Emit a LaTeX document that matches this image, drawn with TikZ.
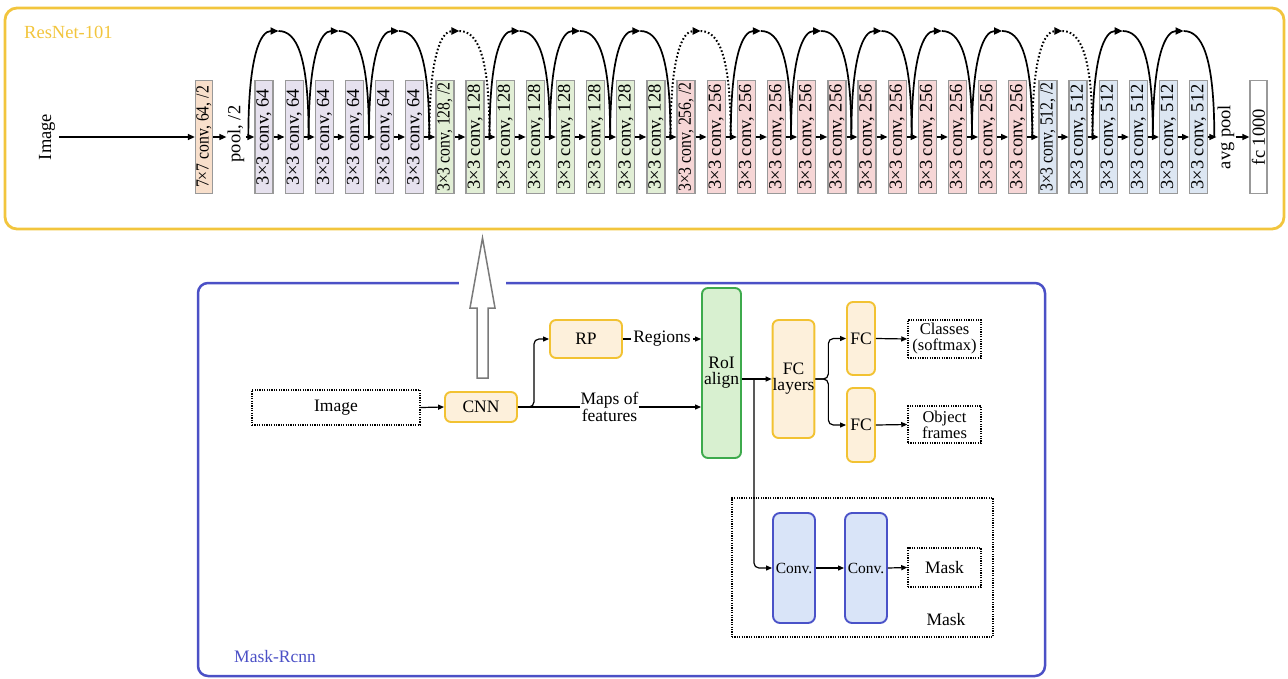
\documentclass[tikz,border=0pt]{standalone}
\usepackage{fontspec}
\setmainfont{Liberation Serif}
\usetikzlibrary{arrows.meta,calc}
\definecolor{yframe}{HTML}{F2C53D}
\definecolor{bframe}{HTML}{4B50C6}
\definecolor{c77}{HTML}{F8DFCB}
\definecolor{c64}{HTML}{E6E1EE}
\definecolor{c128}{HTML}{E1EED5}
\definecolor{c256}{HTML}{F6D6D6}
\definecolor{c512}{HTML}{DCE6F2}
\definecolor{bgray}{HTML}{999999}
\definecolor{yfill}{HTML}{FDF0DB}
\definecolor{yborder}{HTML}{F2C232}
\definecolor{gfill}{HTML}{D8F0D0}
\definecolor{gborder}{HTML}{3DAA4C}
\definecolor{cfill}{HTML}{D9E4F8}
\definecolor{cborder}{HTML}{4A52C8}
\definecolor{hollow}{HTML}{7A7A7A}
\newcommand{\topfont}{\fontsize{18.5}{20}\selectfont}
\newcommand{\botfont}{\fontsize{17.5}{16}\selectfont}
\newcommand{\smfont}{\fontsize{16.5}{16}\selectfont}
\newcommand{\sqz}[1]{\scalebox{0.85}[1]{#1}}
\begin{document}
\begin{tikzpicture}[x=1pt,y=-1pt,
  layer/.style={draw=bgray, line width=1.3pt, minimum width=18pt, minimum height=113pt, inner sep=0pt, font=\topfont},
  rtext/.style={font=\topfont, inner sep=1pt},
  tarr/.style={-{Triangle[length=7pt,width=6pt]}, line width=1.4pt},
  skipline/.style={line width=1.7pt},
  skipdot/.style={line width=2pt, dash pattern=on 1.6pt off 2.2pt},
  barr/.style={-{Triangle[length=6pt,width=5pt]}, line width=1.2pt},
  ybox/.style={draw=yborder, fill=yfill, line width=1.9pt, rounded corners=6pt, inner sep=0pt, font=\botfont, align=center},
  gbox/.style={draw=gborder, fill=gfill, line width=1.9pt, rounded corners=6pt, inner sep=0pt, font=\botfont, align=center},
  cbox/.style={draw=cborder, fill=cfill, line width=1.9pt, rounded corners=7pt, inner sep=0pt, font=\fontsize{15.5}{16}\selectfont, align=center},
  dbox/.style={draw, line width=1.5pt, dash pattern=on 1.2pt off 1.2pt, inner sep=0pt, font=\botfont, align=center}
]
\useasboundingbox (0,0) rectangle (1288,678);

% ---------- ResNet-101 ----------
\draw[draw=yframe, line width=2.8pt, rounded corners=12pt] (5,8) rectangle (1284,229);
\node[text=yframe, font=\topfont, anchor=west, inner sep=0pt] (resnet) at (24,32) {ResNet-101};

\node[rtext, inner sep=4pt] (timg) at (47,137) {\rotatebox{90}{Image}};
\node[layer, fill=c77, minimum width=17pt] (c7) at (204,137) {\rotatebox{90}{\sqz{7×7 conv, 64, /2}}};
\node[rtext] (pool) at (236,134) {\rotatebox{90}{pool, /2}};
\draw[tarr] (timg.east) -- (c7.west);
\draw[tarr] (c7.east) -- (pool.west |- c7.east);

\foreach \stg/\cnt/\stt/\cl in {64/6/0/c64,128/8/6/c128,256/12/14/c256,512/6/26/c512}{
  \foreach \k in {1,...,\cnt}{
    \pgfmathtruncatemacro\idx{\stt+\k-1}
    \pgfmathsetmacro\xc{264+30.15*\idx}
    \ifnum\k=1\relax
      \ifnum\stg>64\relax\def\lab{\sqz{3×3 conv, \stg, /2}}\else\def\lab{3×3 conv, \stg}\fi
    \else\def\lab{3×3 conv, \stg}\fi
    \node[layer, fill=\cl] (b\idx) at (\xc,137) {\rotatebox{90}{\lab}};
  }
}
\draw[tarr] (pool.east |- b0.west) -- (b0.west);
\foreach \i in {0,...,30}{
  \pgfmathtruncatemacro\nx{\i+1}
  \draw[tarr] (b\i.east) -- (b\nx.west);
}
\node[rtext] (avg) at (1226,137) {\rotatebox{90}{avg pool}};
\node[layer, fill=white, minimum width=17pt] (fc) at (1258.5,137) {\rotatebox{90}{fc 1000}};
\draw[tarr] (b31.east) -- (avg.west |- b31.east);
\draw[tarr] (avg.east |- fc.west) -- (fc.west);

\foreach \i in {0,...,31}{\coordinate (j\i) at ($(b\i.west)+(-6,0)$);}
\coordinate (j32) at ($(b31.east)+(6,0)$);
\foreach \k in {0,...,15}{
  \pgfmathtruncatemacro\ja{2*\k}
  \pgfmathtruncatemacro\jb{2*\k+2}
  \pgfmathtruncatemacro\isdot{(\k==3)||(\k==7)||(\k==13)}
  \ifnum\isdot=1\relax\def\sty{skipdot}\else\def\sty{skipline}\fi
  \coordinate (ap\k) at ($(j\ja)!0.5!(j\jb)+(0,-106)$);
  \draw[\sty, -{Triangle[length=8pt,width=7pt]}] (j\ja) .. controls +(0,-82) and +(-18,0) .. (ap\k);
  \draw[\sty] (ap\k) .. controls +(18,0) and +(0,-82) .. (j\jb);
}

% ---------- Mask-Rcnn ----------
\draw[draw=bframe, line width=2.5pt, rounded corners=10pt] (198,283) rectangle (1045,676);
\fill[white] (459,279) rectangle (506,288);
\node[text=bframe, font=\botfont, anchor=west, inner sep=0pt] (mrc) at (234,657) {Mask-Rcnn};
\draw[draw=hollow, fill=white, line width=1.5pt, line join=miter]
  (477,378) -- (488,378) -- (488,308) -- (495,308) -- (482.5,238) -- (470,308) -- (477,308) -- cycle;

\node[dbox, minimum width=168pt, minimum height=35pt] (img) at (336,407.5) {Image};
\node[ybox, minimum width=72pt, minimum height=30pt] (cnn) at (481,407) {CNN};
\node[ybox, minimum width=72pt, minimum height=38pt] (rp) at (586,339) {RP};
\node[gbox, minimum width=39pt, minimum height=170pt] (roi) at (721.5,373) {RoI\\align};
\node[ybox, minimum width=41pt, minimum height=118pt] (fcl) at (793.5,379) {FC\\layers};
\node[ybox, minimum width=28pt, minimum height=73pt] (fc1) at (861,338.5) {FC};
\node[ybox, minimum width=28pt, minimum height=74pt] (fc2) at (861,425) {FC};
\node[dbox, font=\smfont, minimum width=73pt, minimum height=38pt] (cls) at (944.5,339) {Classes\\(softmax)};
\node[dbox, font=\smfont, minimum width=73pt, minimum height=37pt] (obj) at (944.5,424.5) {Object\\frames};
\node[dbox, line width=1.3pt, minimum width=261pt, minimum height=139pt] (maskbox) at (862.5,567.5) {};
\node[font=\botfont, inner sep=0pt] (masklab) at (946,620) {Mask};
\node[cbox, minimum width=42pt, minimum height=110pt] (conv1) at (794,568) {Conv.};
\node[cbox, minimum width=42pt, minimum height=110pt] (conv2) at (866,568) {Conv.};
\node[dbox, minimum width=73pt, minimum height=39pt] (mask) at (944.5,567.5) {Mask};

\draw[barr] (img.east) -- (cnn.west);
\coordinate (s1) at ($(cnn.east)+(16,0)$);
\draw[barr, rounded corners=5pt] (cnn.east) -- (s1) |- (rp.west);
\draw[barr] (cnn.east) -- node[fill=white, font=\botfont, align=center, inner sep=1pt] (maps) {Maps of\\features} (cnn.east -| roi.west);
\draw[barr] (rp.east) -- node[fill=white, font=\botfont, inner sep=2pt] (reg) {Regions} (rp.east -| roi.west);
\coordinate (r1) at (roi.east |- fcl.west);
\draw[barr] (r1) -- (fcl.west);
\coordinate (s2) at ($(r1)+(12,0)$);
\draw[barr, rounded corners=5pt] (s2) |- (conv1.west);
\coordinate (s3) at ($(fcl.east)+(13,0)$);
\draw[barr, rounded corners=5pt] (fcl.east) -- (s3) |- (fc1.west);
\draw[barr, rounded corners=5pt] (fcl.east) -- (s3) |- (fc2.west);
\draw[barr] (fc1.east) -- (cls.west);
\draw[barr] (fc2.east) -- (obj.west);
\draw[barr] (conv1.east) -- (conv2.west);
\draw[barr] (conv2.east) -- (mask.west);
\end{tikzpicture}
\end{document}
